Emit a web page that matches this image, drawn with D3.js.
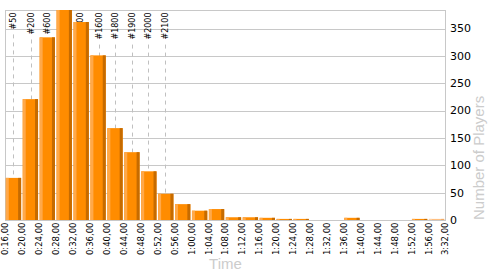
<!DOCTYPE html>
<html>
<head>
<meta charset="utf-8">
<script src="https://cdn.jsdelivr.net/npm/d3@7"></script>
<style>
  body { margin: 0; background: #fff; }
  svg { display: block; }
</style>
</head>
<body>
<svg width="500" height="275"></svg>
<script>
// bin edges (time per run), the last bin is the overflow one
const edgeLabels = ["0:16,00", "0:20,00", "0:24,00", "0:28,00", "0:32,00", "0:36,00", "0:40,00",
  "0:44,00", "0:48,00", "0:52,00", "0:56,00", "1:00,00", "1:04,00", "1:08,00", "1:12,00",
  "1:16,00", "1:20,00", "1:24,00", "1:28,00", "1:32,00", "1:36,00", "1:40,00", "1:44,00",
  "1:48,00", "1:52,00", "1:56,00", "3:32,00"];
const playerCounts = [77, 221, 334, 384, 362, 301, 168, 124, 89, 48, 29, 17, 20, 5, 5, 4, 2, 2,
  0, 0, 4, 0, 0, 0, 2, 2];
const yTicks = [0, 50, 100, 150, 200, 250, 300, 350];
// rank markers (player #n and its time in seconds)
const markerLabels = ["#50", "#200", "#600", "#1200", "#1600", "#1800", "#1900", "#2000", "#2100"];
const markerTimes = [17.85, 21.95, 25.9, 33.7, 38.0, 41.95, 45.8, 49.75, 53.8];

const svg = d3.select("svg");
let plotLeft = 5.5, plotRight = 445.5, plotTop = 10, plotBottom = 220;
const nBins = playerCounts.length;

function toSec(s) {
  let p = s.split(",")[0].split(":");
  return +p[0] * 60 + +p[1];
}
const edgeSecs = edgeLabels.map(toSec);
const step = (plotRight - plotLeft) / nBins;

// polylinear scale so every bin (even the overflow one) gets the same width
const x = d3.scaleLinear()
  .domain(edgeSecs)
  .range(edgeSecs.map((d, i) => plotLeft + i * step));

const y = d3.scaleLinear()
  .domain([0, d3.max(playerCounts)])
  .range([plotBottom, plotTop]);

// grid
const grid = svg.append("g");
grid.selectAll("line.h")
  .data(yTicks)
  .enter()
  .append("line")
  .attr("class", "h")
  .attr("x1", plotLeft)
  .attr("x2", plotRight)
  .attr("y1", (d) => Math.round(y(d)) + 0.5)
  .attr("y2", (d) => Math.round(y(d)) + 0.5)
  .attr("stroke", "#c8c8c8");

grid.append("rect")
  .attr("x", plotLeft)
  .attr("y", plotTop + 0.5)
  .attr("width", plotRight - plotLeft)
  .attr("height", plotBottom - plotTop)
  .attr("fill", "none")
  .attr("stroke", "#c8c8c8");

// markers go behind the bars
const markers = svg.append("g");
markerLabels.forEach((lab, i) => {
  let mx = Math.round(x(markerTimes[i])) + 0.5;
  let t = markers.append("text")
    .attr("transform", `translate(${mx},12.5) rotate(-90)`)
    .attr("dy", "0.35em")
    .attr("text-anchor", "end")
    .style("font-family", "DejaVu Sans, Verdana, sans-serif")
    .style("font-size", "8px")
    .style("fill", "#000")
    .text(lab);
  let len = t.node().getComputedTextLength();
  markers.append("line")
    .attr("x1", mx)
    .attr("x2", mx)
    .attr("y1", 12.5 + len + 5)
    .attr("y2", plotBottom)
    .attr("stroke", "#c0c0c0")
    .attr("stroke-dasharray", "4,4");
});

// bars with a little 3d edge
const bars = svg.append("g");
playerCounts.forEach((v, i) => {
  if (v <= 0) return;
  let overflow = i === nBins - 1;
  let x0 = x(edgeSecs[i]) + 0.3;
  let x1 = x(edgeSecs[i + 1]) - 1.3;
  let y0 = y(v);
  let h = plotBottom - y0;
  let g = bars.append("g");
  g.append("rect")
    .attr("x", x0).attr("y", y0).attr("width", x1 - x0).attr("height", h)
    .attr("fill", overflow ? "#ffbf80" : "#ff8c00");
  g.append("rect")
    .attr("x", x0).attr("y", y0).attr("width", 3).attr("height", h)
    .attr("fill", overflow ? "#ffd0a0" : "#ffa94a");
  g.append("rect")
    .attr("x", x1 - 3).attr("y", y0).attr("width", 3).attr("height", h)
    .attr("fill", overflow ? "#f0aa66" : "#c66b00");
});

// x labels at bin edges
svg.append("g")
  .selectAll("text")
  .data(edgeLabels)
  .enter()
  .append("text")
  .attr("transform", (d, i) => `translate(${x(edgeSecs[i])},222.5) rotate(-90)`)
  .attr("dy", "0.35em")
  .attr("text-anchor", "end")
  .style("font-family", "DejaVu Sans, Verdana, sans-serif")
  .style("font-size", "8.5px")
  .style("fill", "#000")
  .text((d) => d);

// y axis on the right
svg.append("g")
  .selectAll("text")
  .data(yTicks)
  .enter()
  .append("text")
  .attr("x", 450)
  .attr("y", (d) => y(d))
  .attr("dy", "0.35em")
  .style("font-family", "DejaVu Sans, Verdana, sans-serif")
  .style("font-size", "11px")
  .style("fill", "#000")
  .text((d) => d);

// axis titles
svg.append("text")
  .attr("x", (plotLeft + plotRight) / 2)
  .attr("y", 269)
  .attr("text-anchor", "middle")
  .style("font-family", "Liberation Sans, Arial, sans-serif")
  .style("font-size", "15px")
  .style("fill", "#cccccc")
  .text("Time");

svg.append("text")
  .attr("transform", "translate(484,220) rotate(-90)")
  .attr("text-anchor", "start")
  .style("font-family", "Liberation Sans, Arial, sans-serif")
  .style("font-size", "15px")
  .style("fill", "#cccccc")
  .text("Number of Players");
</script>
</body>
</html>
